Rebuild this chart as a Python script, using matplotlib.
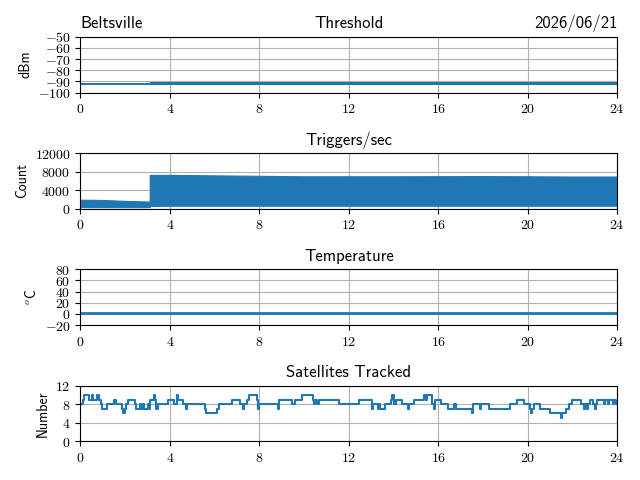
import matplotlib
matplotlib.use('Agg')
import matplotlib.pyplot as plt
from matplotlib.ticker import FuncFormatter

# ---- data (hours of day) ----
# threshold noise band (dBm): time, lower, upper
thr_time = [0, 3.1, 3.1, 24]
thr_low = [-93.0, -93.0, -93.3, -93.3]
thr_high = [-91.2, -91.2, -90.9, -90.9]

# triggers/sec noise band: time, lower, upper
trig_time = [0, 1.0, 2.0, 3.1, 3.1, 4.0, 6.0, 8.0, 10.0, 14.0, 18.0, 22.0, 24]
trig_low = [350, 350, 350, 350, 600, 650, 650, 650, 650, 650, 650, 650, 650]
trig_high = [1950, 1900, 1700, 1550, 7300, 7300, 7200, 7100, 7000, 7000, 7050, 6950, 6950]

# temperature (C)
temp_time = [0, 24]
temp_val = [1.8, 1.8]

# satellites tracked: step start times and counts
sat_time = [0, 0.1, 0.15, 0.4, 0.5, 0.55, 0.75, 0.85, 0.9, 0.95, 1.2, 1.5, 1.6, 1.85, 1.9,
            2.0, 2.05, 2.15, 2.45, 2.5, 2.65, 2.7, 2.8, 2.85, 3.0, 3.05, 3.1, 3.3, 3.35, 3.4,
            3.45, 3.9, 4.2, 4.3, 4.35, 4.4, 4.6, 4.7, 4.75, 5.55, 5.6, 6.1, 6.2, 6.8, 7.15,
            7.25, 7.3, 7.45, 7.55, 7.9, 7.95, 8.0, 8.85, 8.9, 9.45, 9.6, 9.9, 10.4, 10.45,
            10.5, 10.6, 10.65, 11.55, 12.45, 13.05, 13.1, 13.3, 13.35, 13.4, 13.6, 13.9,
            13.95, 14.0, 14.1, 14.4, 14.65, 14.7, 14.9, 15.35, 15.45, 15.5, 15.72, 15.8,
            15.85, 16.1, 16.45, 16.7, 16.8, 17.5, 17.55, 17.85, 17.9, 18.25, 19.2, 19.5,
            19.85, 20.1, 20.15, 20.2, 20.3, 20.55, 21.0, 21.48, 21.55, 21.7, 21.85, 22.0,
            22.4, 22.5, 22.55, 22.65, 22.7, 22.8, 22.9, 23.0, 23.05, 23.1, 23.4, 23.45,
            23.6, 23.65, 23.8, 23.85, 23.95, 24]
sat_val = [8, 9, 10, 9, 10, 9, 10, 9, 8, 7, 8, 9, 8, 7, 6,
           7, 8, 9, 8, 7, 8, 7, 8, 7, 8, 7, 9, 10, 9, 7,
           8, 9, 8, 10, 9, 9, 8, 7, 8, 7, 6, 7, 8, 9, 8,
           7, 8, 9, 10, 9, 7, 8, 7, 9, 8, 9, 10, 9, 8,
           9, 8, 9, 8, 9, 7, 8, 7, 8, 7, 8, 9,
           10, 8, 9, 8, 7, 8, 9, 10, 9, 10, 8, 7,
           9, 8, 7, 8, 7, 6, 8, 7, 8, 7, 8, 9,
           8, 7, 6, 7, 8, 7, 6, 5, 6, 7, 8, 9,
           8, 7, 8, 7, 8, 9, 8, 7, 8, 9, 8, 9,
           8, 9, 8, 9, 8, 8]

hour_ticks = [0, 4, 8, 12, 16, 20, 24]

plt.rcParams['font.family'] = 'cmss10'
plt.rcParams['mathtext.fontset'] = 'cm'
plt.rcParams['axes.unicode_minus'] = False
plt.rcParams['font.size'] = 10

math_fmt = FuncFormatter(lambda v, pos: r'$%g$' % v)
color = '#1f77b4'

fig, axes = plt.subplots(4, 1, figsize=(6.4, 4.8))

ax = axes[0]
ax.fill_between(thr_time, thr_low, thr_high, color=color, lw=0)
ax.set_ylim(-100, -50)
ax.set_yticks([-100, -90, -80, -70, -60, -50])
ax.set_ylabel('dBm')
ax.set_title('Threshold', fontsize=12)
ax.set_title('Beltsville', loc='left', fontsize=12)
ax.set_title('2026/06/21', loc='right', fontsize=12)

ax = axes[1]
ax.fill_between(trig_time, trig_low, trig_high, color=color, lw=0.8, edgecolor=color)
ax.set_ylim(0, 12000)
ax.set_yticks([0, 4000, 8000, 12000])
ax.set_ylabel('Count')
ax.set_title('Triggers/sec', fontsize=12)

ax = axes[2]
ax.plot(temp_time, temp_val, color=color, lw=2)
ax.set_ylim(-20, 80)
ax.set_yticks([-20, 0, 20, 40, 60, 80])
ax.set_ylabel(r'$^o$C')
ax.set_title('Temperature', fontsize=12)

ax = axes[3]
ax.step(sat_time, sat_val, where='post', color=color, lw=1.5)
ax.set_ylim(0, 12)
ax.set_yticks([0, 4, 8, 12])
ax.set_ylabel('Number')
ax.set_title('Satellites Tracked', fontsize=12)

for ax in axes:
    ax.set_xlim(0, 24)
    ax.set_xticks(hour_ticks)
    ax.xaxis.set_major_formatter(math_fmt)
    ax.yaxis.set_major_formatter(math_fmt)
    ax.grid(True)
    ax.set_axisbelow(True)

plt.tight_layout()
plt.savefig('out.png', dpi=100)
